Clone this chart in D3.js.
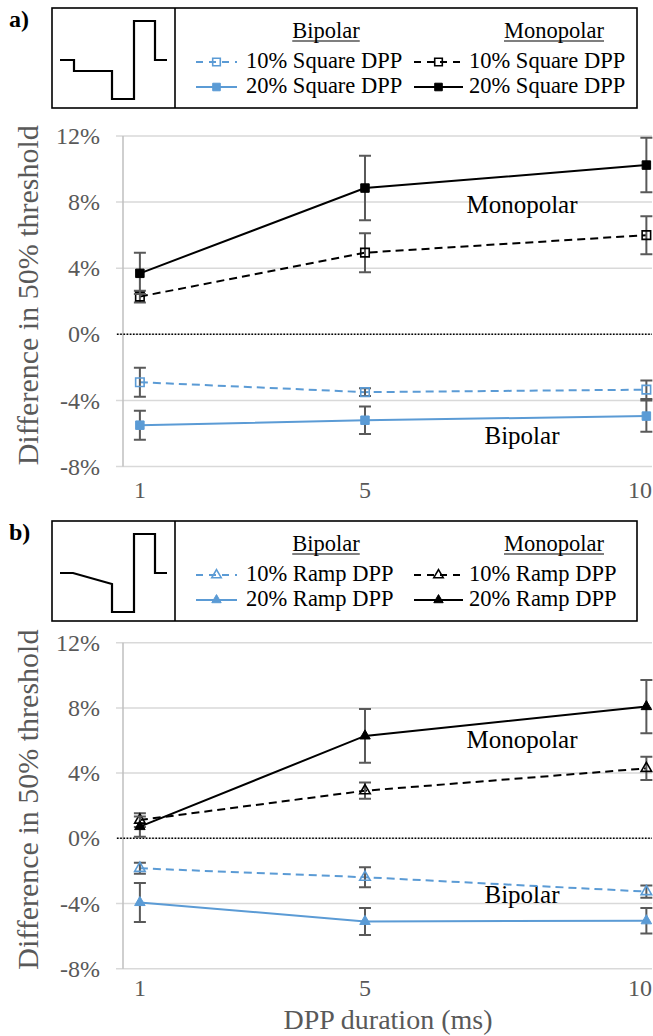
<!DOCTYPE html>
<html>
<head>
<meta charset="utf-8">
<script src="https://cdn.jsdelivr.net/npm/d3@7/dist/d3.min.js"></script>
<style>
  body { margin: 0; background: #fff; }
  svg { display: block; }
</style>
</head>
<body>
<div id="chart"></div>
<script>
// data (difference in 50% threshold, %)
const durations = [1, 5, 10];
const xTicks = [1, 5, 10];
const yTicks = [-8, -4, 0, 4, 8, 12];

const squareBipolar10 = [-2.9, -3.5, -3.35];
const squareBipolar10Err = [0.88, 0.23, 0.56];
const squareBipolar20 = [-5.5, -5.2, -4.95];
const squareBipolar20Err = [0.88, 0.83, 0.95];
const squareMonopolar10 = [2.28, 4.94, 6.0];
const squareMonopolar10Err = [0.35, 1.18, 1.15];
const squareMonopolar20 = [3.69, 8.85, 10.24];
const squareMonopolar20Err = [1.25, 1.95, 1.65];

const rampBipolar10 = [-1.84, -2.39, -3.27];
const rampBipolar10Err = [0.34, 0.62, 0.38];
const rampBipolar20 = [-3.94, -5.1, -5.06];
const rampBipolar20Err = [1.2, 0.83, 0.78];
const rampMonopolar10 = [1.12, 2.92, 4.29];
const rampMonopolar10Err = [0.42, 0.5, 0.72];
const rampMonopolar20 = [0.72, 6.28, 8.08];
const rampMonopolar20Err = [0.62, 1.65, 1.63];

const panelLabels = ['a)', 'b)'];
const groupTitles = ['Bipolar', 'Monopolar'];
const squareNames = ['10% Square DPP', '20% Square DPP'];
const rampNames = ['10% Ramp DPP', '20% Ramp DPP'];
const yTitle = 'Difference in 50% threshold';
const xTitle = 'DPP duration (ms)';

const BLUE = '#5B9BD5';
const GREY = '#595959';
const SERIF = '"Liberation Serif"';

const width = 653, height = 1036;

const svg = d3.select('#chart').append('svg')
    .attr('width', width)
    .attr('height', height);

// every text goes through here so the serif face is set on the element itself
function addText(parent, str, size) {
    return parent.append('text')
        .style('font-family', SERIF)
        .attr('font-size', size)
        .text(str);
}

function makeSeries(vals, errs, color, dashed, filled) {
    const points = durations.map((d, i) => ({ x: d, y: vals[i], e: errs[i] }));
    return { points, color, dashed, filled };
}

const panels = [
    {
        label: panelLabels[0],
        shape: d3.symbolSquare,
        markerSize: 72,
        names: squareNames,
        legendTop: 8,
        yRange: [466.5, 136],
        tickBaseline: 498,
        monoLabelY: 213,
        biLabelY: 444,
        wave: 'square',
        series: [
            makeSeries(squareBipolar10, squareBipolar10Err, BLUE, true, false),
            makeSeries(squareBipolar20, squareBipolar20Err, BLUE, false, true),
            makeSeries(squareMonopolar10, squareMonopolar10Err, '#000', true, false),
            makeSeries(squareMonopolar20, squareMonopolar20Err, '#000', false, true)
        ]
    },
    {
        label: panelLabels[1],
        shape: d3.symbolTriangle,
        markerSize: 48,
        names: rampNames,
        legendTop: 521,
        yRange: [968.7, 642.7],
        tickBaseline: 996,
        monoLabelY: 748,
        biLabelY: 903,
        wave: 'ramp',
        series: [
            makeSeries(rampBipolar10, rampBipolar10Err, BLUE, true, false),
            makeSeries(rampBipolar20, rampBipolar20Err, BLUE, false, true),
            makeSeries(rampMonopolar10, rampMonopolar10Err, '#000', true, false),
            makeSeries(rampMonopolar20, rampMonopolar20Err, '#000', false, true)
        ]
    }
];

const x = d3.scaleLinear().domain([0.7, 10.1]).range([123, 652]);

function drawMarker(g, shape, size, s, cx, cy) {
    g.append('path')
        .attr('d', d3.symbol().type(shape).size(size)())
        .attr('transform', `translate(${cx},${cy})`)
        .attr('fill', s.filled ? s.color : 'none')
        .attr('stroke', s.color)
        .attr('stroke-width', s.filled ? 1 : 1.6);
}

panels.forEach(panel => {
    const y = d3.scaleLinear().domain([-8, 12]).range(panel.yRange);
    const g = svg.append('g');

    // ---- legend box
    const top = panel.legendTop;
    const boxH = 100;
    const box = g.append('g');
    box.append('rect')
        .attr('x', 52).attr('y', top)
        .attr('width', 585).attr('height', boxH)
        .attr('fill', 'none').attr('stroke', '#000').attr('stroke-width', 1.6);
    box.append('line')
        .attr('x1', 175).attr('x2', 175)
        .attr('y1', top).attr('y2', top + boxH)
        .attr('stroke', '#000').attr('stroke-width', 1.6);

    // waveform sketch
    const wavePts = panel.wave === 'square'
        ? [[60, 52], [74, 52], [74, 63], [112, 63], [112, 91], [134, 91], [134, 13], [155, 13], [155, 52], [167, 52]]
        : [[60, 52], [73, 52], [112, 63], [112, 91], [134, 91], [134, 13], [155, 13], [155, 52], [167, 52]];
    box.append('path')
        .attr('d', d3.line()(wavePts.map(p => [p[0], p[1] + top])))
        .attr('fill', 'none').attr('stroke', '#000').attr('stroke-width', 2.2);

    addText(g, panel.label, 24)
        .attr('x', 9).attr('y', top + 19)
        .attr('font-weight', 'bold');

    // headers
    [[326, groupTitles[0]], [554, groupTitles[1]]].forEach(([cx, t]) => {
        const txt = addText(box, t, 22.5)
            .attr('x', cx).attr('y', top + 30)
            .attr('text-anchor', 'middle');
        const w = txt.node().getComputedTextLength();
        box.append('line')
            .attr('x1', cx - w / 2).attr('x2', cx + w / 2)
            .attr('y1', top + 33).attr('y2', top + 33)
            .attr('stroke', '#000').attr('stroke-width', 1.2);
    });

    // legend rows
    const cols = [{ x0: 196, x1: 237, tx: 246 }, { x0: 414, x1: 463, tx: 469 }];
    panel.series.forEach((s, i) => {
        const col = cols[Math.floor(i / 2)];
        const base = top + (i % 2 === 0 ? 60 : 85);
        const sy = base - 6;
        box.append('line')
            .attr('x1', col.x0).attr('x2', col.x1)
            .attr('y1', sy).attr('y2', sy)
            .attr('stroke', s.color).attr('stroke-width', 2)
            .attr('stroke-dasharray', s.dashed ? '7,6' : null);
        drawMarker(box, panel.shape, panel.markerSize * 0.8, s, (col.x0 + col.x1) / 2, sy);
        addText(box, panel.names[i % 2], 22.5)
            .attr('x', col.tx).attr('y', base);
    });

    // ---- grid + axes
    const grid = g.append('g');
    grid.selectAll('line.grid')
        .data(yTicks)
        .join('line')
        .attr('class', 'grid')
        .attr('x1', 116).attr('x2', 652)
        .attr('y1', d => y(d)).attr('y2', d => y(d))
        .attr('stroke', '#d9d9d9').attr('stroke-width', 1.5);

    grid.append('line')
        .attr('x1', x(0.7)).attr('x2', x(0.7))
        .attr('y1', y(12)).attr('y2', y(-8))
        .attr('stroke', '#bfbfbf').attr('stroke-width', 1.5);

    yTicks.forEach(t => {
        addText(grid, t + '%', 24)
            .attr('x', 100).attr('y', y(t))
            .attr('dy', '0.34em')
            .attr('text-anchor', 'end')
            .attr('fill', GREY);
    });

    // last tick label sits against the right edge, keep it inside
    xTicks.forEach(t => {
        addText(grid, t, 24)
            .attr('x', Math.min(x(t), 640)).attr('y', panel.tickBaseline)
            .attr('text-anchor', 'middle')
            .attr('fill', GREY);
    });

    // zero line (dotted)
    grid.append('line')
        .attr('x1', 117).attr('x2', 652)
        .attr('y1', y(0)).attr('y2', y(0))
        .attr('stroke', '#000').attr('stroke-width', 1.6)
        .attr('stroke-dasharray', '1.6,1.6');

    const midY = (panel.yRange[0] + panel.yRange[1]) / 2 - 6;
    addText(g, yTitle, 30)
        .attr('transform', `translate(38,${midY}) rotate(-90)`)
        .attr('text-anchor', 'middle')
        .attr('fill', GREY);

    // annotations
    addText(g, groupTitles[1], 25)
        .attr('x', 522).attr('y', panel.monoLabelY)
        .attr('text-anchor', 'middle');
    addText(g, groupTitles[0], 25)
        .attr('x', 522).attr('y', panel.biLabelY)
        .attr('text-anchor', 'middle');

    // ---- series
    const line = d3.line().x(d => x(d.x)).y(d => y(d.y));
    panel.series.forEach(s => {
        const sg = g.append('g');
        sg.append('path')
            .attr('d', line(s.points))
            .attr('fill', 'none')
            .attr('stroke', s.color).attr('stroke-width', 2)
            .attr('stroke-dasharray', s.dashed ? '8,5' : null);

        sg.selectAll('path.err')
            .data(s.points)
            .join('path')
            .attr('class', 'err')
            .attr('d', d => {
                const cx = x(d.x), y0 = y(d.y - d.e), y1 = y(d.y + d.e);
                return `M${cx},${y0}V${y1}M${cx - 6},${y0}H${cx + 6}M${cx - 6},${y1}H${cx + 6}`;
            })
            .attr('fill', 'none')
            .attr('stroke', GREY).attr('stroke-width', 2);

        s.points.forEach(d => drawMarker(sg, panel.shape, panel.markerSize, s, x(d.x), y(d.y)));
    });
});

addText(svg, xTitle, 28)
    .attr('x', 388).attr('y', 1029)
    .attr('text-anchor', 'middle')
    .attr('fill', GREY);
</script>
</body>
</html>
